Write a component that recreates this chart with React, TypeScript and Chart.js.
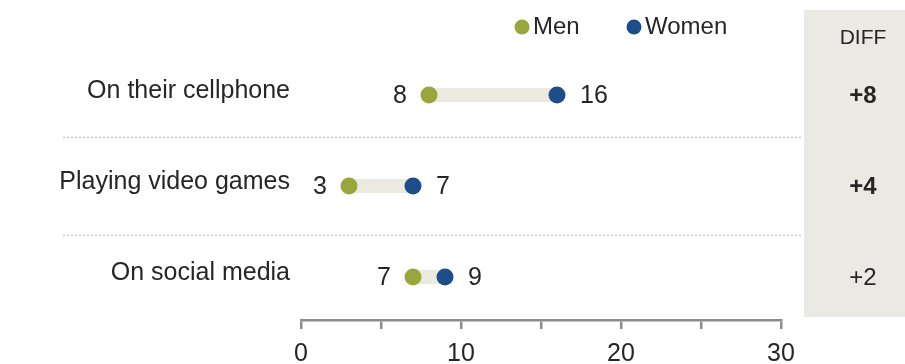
import React, { useEffect, useRef } from "react";
import { Chart, registerables } from "chart.js";

Chart.register(...registerables);

const CATEGORIES = ["On their cellphone", "Playing video games", "On social media"];
const MEN = [8, 3, 7];
const WOMEN = [16, 7, 9];
const DIFF_BOLD = [true, true, false];
const X_TICKS = [0, 10, 20, 30];
const SEPARATORS = [0.46, 1.54];

const GREEN = "#98a63c";
const BLUE = "#1e4d8b";
const BAR = "#ece9e1";
const PANEL = "#ebe9e4";
const TEXT = "#262626";
const FONT = "'Liberation Sans', Arial, sans-serif";

export default function App() {
  const ref = useRef<HTMLCanvasElement | null>(null);

  useEffect(() => {
    document.body.style.margin = "0";
    const canvas = ref.current;
    if (!canvas) return;

    const overlay = {
      id: "overlay",
      beforeDatasetsDraw(chart: any) {
        const ctx = chart.ctx;
        const y = chart.scales.y;
        ctx.save();
        ctx.fillStyle = PANEL;
        ctx.fillRect(804, 10, 101, 307);
        ctx.strokeStyle = "#c8c8c8";
        ctx.lineWidth = 1.5;
        ctx.setLineDash([2, 2]);
        SEPARATORS.forEach((s) => {
          const py = Math.round(y.getPixelForValue(s)) + 0.5;
          ctx.beginPath();
          ctx.moveTo(63, py);
          ctx.lineTo(803, py);
          ctx.stroke();
        });
        ctx.setLineDash([]);
        ctx.restore();
      },
      afterDatasetsDraw(chart: any) {
        const ctx = chart.ctx;
        const y = chart.scales.y;
        ctx.save();
        ctx.textBaseline = "middle";
        ctx.fillStyle = TEXT;
        ctx.font = `25px ${FONT}`;
        const menMeta = chart.getDatasetMeta(0);
        const womenMeta = chart.getDatasetMeta(1);
        MEN.forEach((v, i) => {
          const el = menMeta.data[i];
          ctx.textAlign = "right";
          ctx.fillText(String(v), el.x - 22, el.y + 1);
        });
        WOMEN.forEach((v, i) => {
          const el = womenMeta.data[i];
          ctx.textAlign = "left";
          ctx.fillText(String(v), el.x + 23, el.y + 1);
        });
        ctx.textAlign = "center";
        ctx.font = `21px ${FONT}`;
        ctx.fillText("DIFF", 863, 38);
        CATEGORIES.forEach((_, i) => {
          const d = WOMEN[i] - MEN[i];
          ctx.font = `${DIFF_BOLD[i] ? "bold " : ""}24px ${FONT}`;
          ctx.fillText((d >= 0 ? "+" : "") + d, 863, y.getPixelForValue(i) + 1);
        });
        const items = [
          { label: "Men", color: GREEN, x: 522 },
          { label: "Women", color: BLUE, x: 634 },
        ];
        items.forEach((it) => {
          ctx.fillStyle = it.color;
          ctx.beginPath();
          ctx.arc(it.x, 27, 7.5, 0, Math.PI * 2);
          ctx.fill();
          ctx.fillStyle = TEXT;
          ctx.textAlign = "left";
          ctx.font = `24px ${FONT}`;
          ctx.fillText(it.label, it.x + 11, 27);
        });
        ctx.restore();
      },
    };

    const connectors = CATEGORIES.map((c, i) => ({
      label: c,
      data: [
        { x: MEN[i], y: i },
        { x: WOMEN[i], y: i },
      ],
      showLine: true,
      borderColor: BAR,
      borderWidth: 14,
      borderCapStyle: "butt",
      pointRadius: 0,
      pointHoverRadius: 0,
    }));

    const chart = new Chart(canvas, {
      type: "scatter",
      data: {
        datasets: [
          {
            label: "Men",
            data: MEN.map((v, i) => ({ x: v, y: i })),
            backgroundColor: GREEN,
            borderWidth: 0,
            pointRadius: 8.5,
          },
          {
            label: "Women",
            data: WOMEN.map((v, i) => ({ x: v, y: i })),
            backgroundColor: BLUE,
            borderWidth: 0,
            pointRadius: 8.5,
          },
          ...connectors,
        ] as any,
      },
      options: {
        animation: false,
        responsive: false,
        layout: { padding: { top: 49.5, right: 124, left: 0, bottom: 0 } },
        plugins: { legend: { display: false }, tooltip: { enabled: false } },
        scales: {
          x: {
            type: "linear",
            position: "bottom",
            min: 0,
            max: 30,
            afterBuildTicks: (scale: any) => {
              const t: any[] = [];
              for (let v = 0; v <= 30; v += 5) t.push({ value: v });
              scale.ticks = t;
            },
            afterFit: (scale: any) => {
              scale.height = 44;
            },
            ticks: {
              callback: (v: any) => (X_TICKS.includes(Number(v)) ? String(v) : ""),
              font: { size: 25, family: FONT },
              color: TEXT,
              padding: 10,
              maxRotation: 0,
              autoSkip: false,
            },
            grid: {
              drawOnChartArea: false,
              drawTicks: true,
              tickLength: 9,
              color: "#8c8c8c",
              lineWidth: 2.5,
            },
            border: { display: true, color: "#8c8c8c", width: 2.5 },
          },
          y: {
            type: "linear",
            position: "left",
            reverse: true,
            min: -0.5,
            max: 2.4725,
            afterBuildTicks: (scale: any) => {
              scale.ticks = CATEGORIES.map((_, i) => ({ value: i }));
            },
            afterFit: (scale: any) => {
              scale.width = 301;
            },
            ticks: {
              callback: (v: any) => CATEGORIES[Number(v)] ?? "",
              font: { size: 25, family: FONT },
              color: TEXT,
              padding: 11,
              labelOffset: -4,
              autoSkip: false,
            },
            grid: { display: false, drawTicks: false },
            border: { display: false },
          },
        },
      } as any,
      plugins: [overlay],
    });

    return () => chart.destroy();
  }, []);

  return <canvas ref={ref} width={905} height={364} style={{ display: "block" }} />;
}
